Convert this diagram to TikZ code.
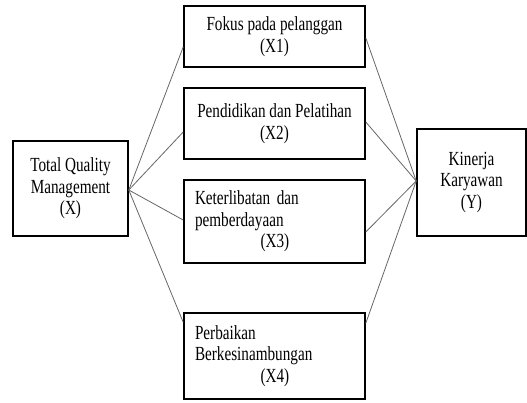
\documentclass[tikz,border=0pt]{standalone}
\usepackage{fontspec}
\setmainfont[FakeStretch=0.76]{Liberation Serif}
\begin{document}
\begin{tikzpicture}[x=1pt,y=-1pt,
  box/.style={draw=black, line width=1.6pt, inner sep=0pt,
    font=\fontsize{20}{21.5}\selectfont},
  cbox/.style={box, align=center},
  lbox/.style={box, align=left, text width=159pt},
  link/.style={draw=black!60, line width=0.8pt}]
\useasboundingbox (0,0) rectangle (527,402);
% left
\node[cbox, minimum width=115pt, minimum height=95pt] (tqm) at (70.5,188.5)
  {Total Quality\\Management\\(X)};
% middle
\node[cbox, minimum width=181pt, minimum height=61pt] (x1) at (274.5,36.5)
  {Fokus pada pelanggan\\(X1)};
\node[cbox, minimum width=181pt, minimum height=71pt] (x2) at (274.5,123.5)
  {Pendidikan dan Pelatihan\\(X2)};
\node[lbox, minimum width=181pt, minimum height=83pt] (x3) at (274.5,221.5)
  {Keterlibatan dan\\pemberdayaan\\\hspace*{65.5pt}(X3)};
\node[lbox, minimum width=181pt, minimum height=86pt] (x4) at (274.5,356)
  {Perbaikan\\Berkesinambungan\\\hspace*{65.5pt}(X4)};
% right
\node[cbox, minimum width=109pt, minimum height=107pt] (yk) at (471.5,182.5)
  {Kinerja\\Karyawan\\(Y)};
% connectors
\coordinate (L) at ([yshift=-1.5pt]tqm.east);
\coordinate (R) at ([yshift=1.5pt]yk.west);
\draw[link] (L) -- ([yshift=-10.5pt]x1.west);
\draw[link] (L) -- ([yshift=-8.5pt]x2.west);
\draw[link] (L) -- ([yshift=1.5pt]x3.west);
\draw[link] (L) -- ([yshift=-10pt]x4.north west);
\draw[link] ([yshift=-1.5pt]x1.east) -- (R);
\draw[link] ([yshift=1.5pt]x2.east) -- (R);
\draw[link] ([yshift=-10.5pt]x3.east) -- (R);
\draw[link] ([yshift=-11pt]x4.north east) -- (R);
\end{tikzpicture}
\end{document}
